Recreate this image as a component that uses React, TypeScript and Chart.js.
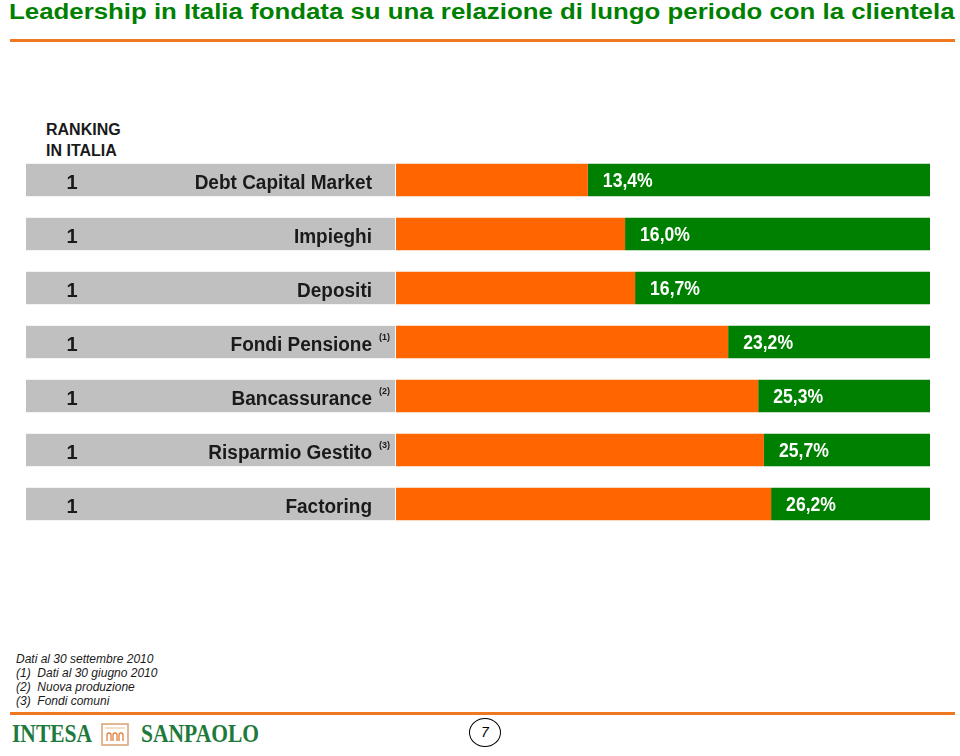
import React, { useEffect, useLayoutEffect, useRef } from "react";
import { Chart, registerables } from "chart.js";

Chart.register(...registerables);

const categories = [
  "Debt Capital Market",
  "Impieghi",
  "Depositi",
  "Fondi Pensione",
  "Bancassurance",
  "Risparmio Gestito",
  "Factoring",
];
const notes = ["", "", "", "(1)", "(2)", "(3)", ""];
const ranks = [1, 1, 1, 1, 1, 1, 1];
const shares = [13.4, 16.0, 16.7, 23.2, 25.3, 25.7, 26.2];
const remainders = [23.9, 21.3, 20.6, 14.1, 12.0, 11.6, 11.1];
const axisMax = 37.3;

const titleText = "Leadership in Italia fondata su una relazione di lungo periodo con la clientela";
const footnotes = [
  "Dati al 30 settembre 2010",
  "(1)\u00a0\u00a0Dati al 30 giugno 2010",
  "(2)\u00a0\u00a0Nuova produzione",
  "(3)\u00a0\u00a0Fondi comuni",
];

const ORANGE = "#FF6600";
const GREEN = "#008000";
const GRAY = "#C0C0C0";
const SANS = "'Liberation Sans', Arial, sans-serif";

const labelPlugin = {
  id: "rankLabels",
  beforeDatasetsDraw(chart: any) {
    const { ctx, chartArea, scales } = chart;
    const y = scales.y;
    const meta = chart.getDatasetMeta(0);
    ctx.save();
    categories.forEach((_, i) => {
      const h = meta.data[i].height;
      const cy = y.getPixelForValue(i);
      ctx.fillStyle = GRAY;
      ctx.fillRect(26, cy - h / 2, chartArea.left - 1 - 26, h);
    });
    ctx.restore();
  },
  afterDatasetsDraw(chart: any) {
    const { ctx, chartArea, scales } = chart;
    const y = scales.y;
    const x = scales.x;
    ctx.save();
    categories.forEach((cat, i) => {
      const cy = y.getPixelForValue(i);
      ctx.fillStyle = "#1a1a1a";
      ctx.font = `bold 20px ${SANS}`;
      ctx.textBaseline = "middle";
      ctx.textAlign = "center";
      ctx.fillText(String(ranks[i]), 72, cy + 3);
      ctx.textAlign = "right";
      ctx.save();
      ctx.translate(chartArea.left - 24, cy + 3);
      ctx.scale(0.95, 1);
      ctx.fillText(cat, 0, 0);
      ctx.restore();
      if (notes[i]) {
        ctx.font = `bold 9px ${SANS}`;
        ctx.textAlign = "left";
        ctx.fillText(notes[i], chartArea.left - 17, cy - 4);
      }
      const gx = x.getPixelForValue(shares[i]);
      ctx.fillStyle = "#ffffff";
      ctx.font = `bold 20px ${SANS}`;
      ctx.textAlign = "left";
      ctx.save();
      ctx.translate(gx + 15, cy + 1);
      ctx.scale(0.88, 1);
      ctx.fillText(shares[i].toFixed(1).replace(".", ",") + "%", 0, 0);
      ctx.restore();
    });
    ctx.restore();
  },
};

function BarChart() {
  const ref = useRef<HTMLCanvasElement>(null);
  useEffect(() => {
    if (!ref.current) return;
    const chart = new Chart(ref.current, {
      type: "bar",
      data: {
        labels: categories,
        datasets: [
          {
            label: "Quota",
            data: shares,
            backgroundColor: ORANGE,
            borderWidth: 0,
            barPercentage: 0.6,
            categoryPercentage: 1,
          },
          {
            label: "Resto",
            data: remainders,
            backgroundColor: GREEN,
            borderWidth: 0,
            barPercentage: 0.6,
            categoryPercentage: 1,
          },
        ],
      },
      options: {
        indexAxis: "y",
        animation: false,
        responsive: false,
        devicePixelRatio: 1,
        layout: { padding: { left: 396, right: 30, top: 13, bottom: 9 } },
        scales: {
          x: { stacked: true, min: 0, max: axisMax, display: false },
          y: { stacked: true, display: false },
        },
        plugins: {
          legend: { display: false },
          tooltip: { enabled: false },
        },
      },
      plugins: [labelPlugin],
    } as any);
    return () => chart.destroy();
  }, []);
  return (
    <canvas
      ref={ref}
      width={960}
      height={400}
      style={{ position: "absolute", left: 0, top: 140, width: 960, height: 400 }}
    />
  );
}

function FitText({ text, width, style }: { text: string; width: number; style: any }) {
  const ref = useRef<HTMLDivElement>(null);
  useLayoutEffect(() => {
    const el = ref.current;
    if (!el) return;
    el.style.transform = "none";
    const w = el.scrollWidth;
    if (w > 0) el.style.transform = `scaleX(${width / w})`;
  }, [text, width]);
  return (
    <div ref={ref} style={{ ...style, whiteSpace: "nowrap", transformOrigin: "left top", display: "inline-block" }}>
      {text}
    </div>
  );
}

export default function App() {
  return (
    <div
      style={{
        position: "fixed",
        left: 0,
        top: 0,
        width: 960,
        height: 756,
        background: "#ffffff",
        overflow: "hidden",
      }}
    >
      <FitText
        text={titleText}
        width={946}
        style={{
          position: "absolute",
          left: 9,
          top: -2,
          fontFamily: SANS,
          fontWeight: "bold",
          fontSize: 22,
          lineHeight: "28px",
          color: GREEN,
        }}
      />
      <div style={{ position: "absolute", left: 10, top: 39, width: 945, height: 3, background: "#F07820" }} />
      <div
        style={{
          position: "absolute",
          left: 46,
          top: 119,
          fontFamily: SANS,
          fontWeight: "bold",
          fontSize: 16,
          lineHeight: "21px",
          color: "#1a1a1a",
        }}
      >
        RANKING
        <br />
        IN ITALIA
      </div>
      <BarChart />
      <div
        style={{
          position: "absolute",
          left: 16,
          top: 652,
          fontFamily: SANS,
          fontStyle: "italic",
          fontSize: 12,
          lineHeight: "14px",
          color: "#1a1a1a",
        }}
      >
        {footnotes.map((f, i) => (
          <div key={i}>{f}</div>
        ))}
      </div>
      <div style={{ position: "absolute", left: 10, top: 712, width: 945, height: 3, background: "#F07820" }} />
      <FitText
        text="INTESA"
        width={80}
        style={{
          position: "absolute",
          left: 12,
          top: 721,
          fontFamily: "'Liberation Serif', serif",
          fontWeight: "bold",
          fontSize: 25,
          lineHeight: "26px",
          color: "#1E7A3C",
        }}
      />
      <svg
        width={28}
        height={23}
        style={{ position: "absolute", left: 101, top: 723 }}
        viewBox="0 0 28 23"
      >
        <rect x={1} y={1} width={26} height={21} fill="#fff" stroke="#D9A070" strokeWidth={1.5} />
        <line x1={4} y1={5} x2={24} y2={5} stroke="#E8C090" strokeWidth={1} />
        <path
          d="M6 18 V12 a2 2 0 0 1 4 0 V18 M12 18 V12 a2 2 0 0 1 4 0 V18 M18 18 V12 a2 2 0 0 1 4 0 V18"
          fill="none"
          stroke="#E08040"
          strokeWidth={1.3}
        />
      </svg>
      <FitText
        text="SANPAOLO"
        width={118}
        style={{
          position: "absolute",
          left: 141,
          top: 721,
          fontFamily: "'Liberation Serif', serif",
          fontWeight: "bold",
          fontSize: 25,
          lineHeight: "26px",
          color: "#1E7A3C",
        }}
      />
      <div
        style={{
          position: "absolute",
          left: 469,
          top: 718,
          width: 30,
          height: 27,
          border: "1px solid #000",
          borderRadius: "50%",
          textAlign: "center",
          fontFamily: SANS,
          fontStyle: "italic",
          fontSize: 14,
          lineHeight: "27px",
          color: "#000",
        }}
      >
        7
      </div>
    </div>
  );
}
